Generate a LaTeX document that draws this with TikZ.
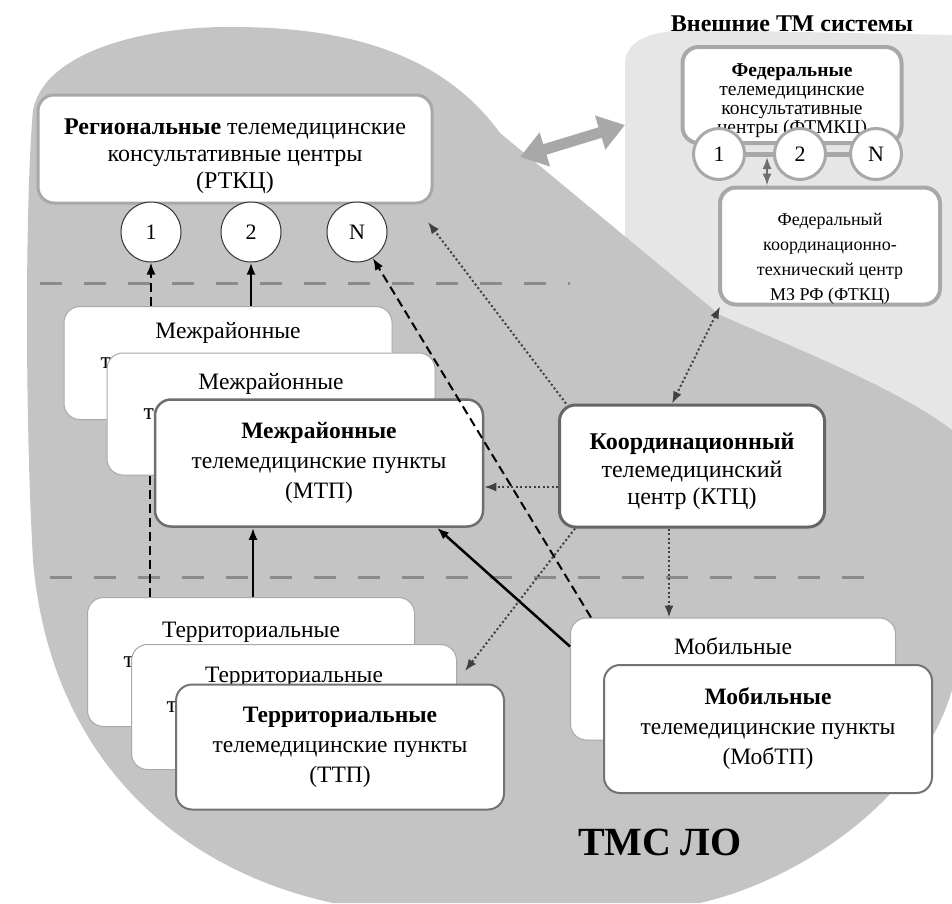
\documentclass[tikz,border=0pt]{standalone}
\usepackage{fontspec}
\setmainfont{Liberation Serif}
\usetikzlibrary{arrows.meta,positioning}
\definecolor{tmblob}{HTML}{C4C4C4}
\definecolor{tmouter}{HTML}{E6E6E6}
\definecolor{tmrule}{HTML}{8A8A8A}
\definecolor{tmedge}{HTML}{6E6E6E}
\definecolor{tmpale}{HTML}{A8A8A8}
\tikzstyle{tmbox}=[draw=tmedge,fill=white,rounded corners=16pt,line width=2.5pt,align=center,
  font=\fontsize{23.5}{30}\selectfont,inner sep=0pt,minimum width=328pt,minimum height=126pt]
\tikzstyle{tmback}=[tmbox,draw=tmpale,line width=1pt]
\tikzstyle{tmnum}=[circle,draw=black!80,fill=white,line width=1pt,minimum size=60pt,inner sep=0pt,
  font=\fontsize{22}{24}\selectfont]
\tikzstyle{fednum}=[tmnum,draw=tmpale,line width=3pt,minimum size=51pt]
\tikzstyle{fedbox}=[tmbox,draw=tmpale,line width=4pt,font=\fontsize{19.5}{19}\selectfont]
\tikzstyle{solidlink}=[line width=2.5pt,->]
\tikzstyle{dashlink}=[line width=2pt,dash pattern=on 9pt off 5pt,->]
\tikzstyle{dotlink}=[line width=2pt,draw=black!75,dash pattern=on 2pt off 2.5pt,->]
\tikzstyle{sepline}=[draw=tmrule,line width=3pt,dash pattern=on 22pt off 22pt]

\begin{document}
\begin{tikzpicture}[x=1pt,y=-1pt,>={Latex[length=12pt,width=9pt]}]
  \useasboundingbox (0,0) rectangle (952,903);
  % background areas
  \fill[tmouter] (625,250) -- (625,60) .. controls (630,35) and (660,30) .. (700,30)
    -- (952,35) -- (952,440) -- (720,315) -- cycle;
  \fill[tmblob] (33,560) .. controls (25,420) and (25,200) .. (33,110)
    .. controls (45,50) and (150,25) .. (240,27) .. controls (340,28) and (440,50) .. (500,133)
    -- (720,315) .. controls (800,350) and (900,390) .. (952,430) -- (952,690)
    .. controls (920,800) and (800,880) .. (700,903) -- (333,903)
    .. controls (180,870) and (50,760) .. (33,560) -- cycle;
  \draw[sepline] (40,283) -- (570,283);
  \draw[sepline] (50,577) -- (870,577);
  \coordinate (linkL) at (520,157);
  \coordinate (linkR) at (625,125);
  \draw[line width=11pt,draw=tmpale,{Triangle[width=34pt,length=26pt]}-{Triangle[width=34pt,length=26pt]}] (linkL) -- (linkR);

  % regional level
  \node[tmbox,draw=tmpale,line width=3pt,minimum width=394pt,minimum height=108pt,font=\fontsize{24}{27}\selectfont] (rtkc) at (235,149)
    {\rule{0pt}{29.5pt}\textbf{Региональные} телемедицинские\\консультативные центры\\(РТКЦ)};
  \foreach \n/\x in {1/151,2/251,N/357} {\node[tmnum] (r\n) at (\x,232) {\n};}

  % external systems
  \node[font=\fontsize{24}{26}\selectfont\bfseries] (ext) at (792,24) {Внешние ТМ системы};
  \node[fedbox,minimum width=219pt,minimum height=96pt] (fed) at (792,95)
    {\rule{0pt}{24pt}\textbf{Федеральные}\\телемедицинские\\консультативные\\центры (ФТМКЦ)};
  \foreach \n/\x in {1/719,2/800,N/876} {\node[fednum] (f\n) at (\x,154) {\n};}
  \draw[line width=5pt,draw=tmpale] (f1) -- (f2) (f2) -- (fN);
  \node[fedbox,font=\fontsize{18}{25}\selectfont,minimum width=220pt,minimum height=117pt] (fktc) at (830,246)
    {\rule{0pt}{37pt}Федеральный\\координационно-\\технический центр\\МЗ РФ (ФТКЦ)};
  \coordinate (fbus) at (767,157);
  \draw[line width=2pt,draw=tmedge,<->] (fbus) -- (fktc.north -| fbus);

  % interdistrict points
  \node[tmback,minimum height=113pt] (mtpA) at (228,363)
    {Межрайонные\\те\phantom{лемедицинские пункты}\\\phantom{(МТП)}};
  \node[tmback,minimum height=122pt] (mtpB) at (271,414)
    {Межрайонные\\те\phantom{лемедицинские пункты}\\\phantom{(МТП)}};
  \node[tmbox,minimum height=127pt] (mtp) at (319,463) {\textbf{Межрайонные}\\телемедицинские пункты\\(МТП)};
  \node[tmbox,draw=black!60,line width=3pt,minimum width=265pt,minimum height=122pt,font=\fontsize{24}{27.5}\selectfont] (ktc) at (692,466)
    {\rule{0pt}{27.5pt}\textbf{Координационный}\\телемедицинский\\центр (КТЦ)};

  % territorial and mobile points
  \node[tmback,minimum width=327pt,minimum height=129pt] (ttpA) at (251,662)
    {Территориальные\\те\phantom{лемедицинские пункты}\\\phantom{(ТТП)}};
  \node[tmback,minimum width=325pt,minimum height=125pt] (ttpB) at (294,707)
    {Территориальные\\те\phantom{лемедицинские пункты}\\\phantom{(ТТП)}};
  \node[tmbox,draw=black!55,line width=2pt,minimum height=125pt] (ttp) at (340,747) {\textbf{Территориальные}\\телемедицинские пункты\\(ТТП)};
  \node[tmback,minimum width=325pt,minimum height=122pt] (mobA) at (733,679)
    {Мобильные\\те\phantom{лемедицинские пункты}\\\phantom{(МобТП)}};
  \node[tmbox,draw=black!55,line width=2pt,minimum height=128pt] (mob) at (768,729) {\textbf{Мобильные}\\телемедицинские пункты\\(МобТП)};

  \node[font=\fontsize{40}{44}\selectfont\bfseries] (tms) at (660,842) {ТМС ЛО};

  % links
  \draw[dashlink] (r1 |- mtpA.north) -- (r1);
  \draw[solidlink] (r2 |- mtpA.north) -- (r2);
  \draw[dashlink] ([xshift=21pt]mobA.north west) -- (rN);
  \coordinate (rtkcin) at (428,222);
  \draw[dotlink] ([xshift=8pt]ktc.north west) -- (rtkcin);
  \draw[dotlink,<->] ([xshift=2pt]fktc.south west) -- ([xshift=-20pt]ktc.north);
  \draw[dotlink] (ktc.west |- 0,487) -- (mtp.east |- 0,487);
  \draw[dotlink] (ktc.south -| 669,0) -- (mobA.north -| 669,0);
  \coordinate (ttpin) at (465,671);
  \draw[dotlink] ([xshift=17pt]ktc.south west) -- (ttpin);
  \draw[solidlink] ([yshift=-29pt]mobA.north west) -- ([xshift=118pt]mtp.south);
  \draw[solidlink] (253,0 |- ttpA.north) -- (253,0 |- mtp.south);
  \draw[dashlink,-] (150,0 |- ttpA.north) -- (150,0 |- mtpB.south);
\end{tikzpicture}
\end{document}
